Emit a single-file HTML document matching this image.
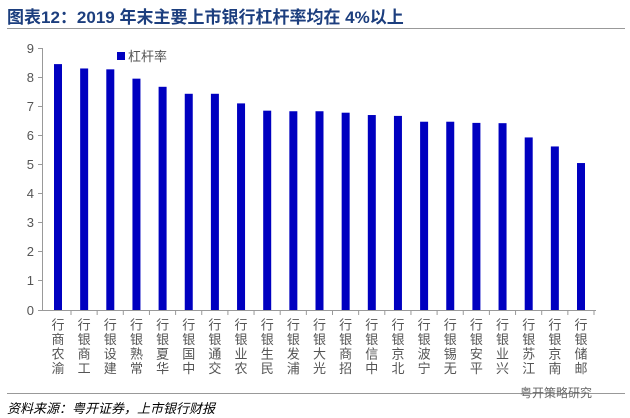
<!DOCTYPE html><html><head><meta charset="utf-8"><style>
body{margin:0;width:630px;height:418px;background:#fff;overflow:hidden;font-family:"Liberation Sans","Noto Sans CJK SC",sans-serif;}
</style></head><body>
<svg width="630" height="418" xmlns="http://www.w3.org/2000/svg" style="position:absolute;left:0;top:0">
<text x="7" y="23" font-size="17" font-weight="bold" fill="#1c3e7e" font-family="Liberation Sans,Noto Sans CJK SC,sans-serif">图表12：2019 年末主要上市银行杠杆率均在 4%以上</text>
<line x1="7" y1="28.5" x2="625" y2="28.5" stroke="#999" stroke-width="1"/>
<g font-size="13" fill="#555" text-anchor="end" font-family="Liberation Sans,sans-serif">
<text x="34" y="53">9</text><text x="34" y="82">8</text><text x="34" y="111">7</text><text x="34" y="140">6</text><text x="34" y="169">5</text><text x="34" y="198">4</text><text x="34" y="227">3</text><text x="34" y="256">2</text><text x="34" y="285">1</text><text x="34" y="315">0</text>
</g>
<g stroke="#999" stroke-width="1">
<line x1="42.5" y1="48" x2="42.5" y2="310"/>
<line x1="38" y1="48.5" x2="42" y2="48.5"/><line x1="38" y1="77.5" x2="42" y2="77.5"/><line x1="38" y1="106.5" x2="42" y2="106.5"/><line x1="38" y1="135.5" x2="42" y2="135.5"/><line x1="38" y1="164.5" x2="42" y2="164.5"/><line x1="38" y1="193.5" x2="42" y2="193.5"/><line x1="38" y1="222.5" x2="42" y2="222.5"/><line x1="38" y1="251.5" x2="42" y2="251.5"/><line x1="38" y1="280.5" x2="42" y2="280.5"/>
<line x1="38" y1="310.5" x2="596" y2="310.5"/>
</g>
<rect x="117" y="52" width="8" height="8" fill="#0000c0"/>
<text x="128" y="61" font-size="13" fill="#555">杠杆率</text>
<g id="bars"></g>
<g id="labels" font-size="13" fill="#555" text-anchor="middle"></g>
<line x1="7" y1="393.5" x2="625" y2="393.5" stroke="#999"/>
<text x="7" y="413" font-size="13" font-style="italic" fill="#000">资料来源：粤开证券，上市银行财报</text>
<text x="520" y="397" font-size="12" fill="#666">粤开策略研究</text>
</svg>
<script>
var v=[8.45,8.3,8.27,7.95,7.67,7.43,7.43,7.1,6.85,6.83,6.83,6.78,6.7,6.67,6.47,6.47,6.43,6.42,5.93,5.62,5.05];
var n=["渝农商行","工商银行","建设银行","常熟银行","华夏银行","中国银行","交通银行","农业银行","民生银行","浦发银行","光大银行","招商银行","中信银行","北京银行","宁波银行","无锡银行","平安银行","兴业银行","江苏银行","南京银行","邮储银行"];
var b=document.getElementById("bars"),l=document.getElementById("labels"),s="";
for(var i=0;i<21;i++){var cx=58+i*26.15,h=v[i]*29.1;
s+='<rect x="'+(cx-4)+'" y="'+(310-h)+'" width="8" height="'+h+'" fill="#0000c0"/>';}
b.innerHTML=s;s="";
for(var i=0;i<21;i++){var cx=58+i*26.15;
s+='<line x1="'+(cx+13)+'" y1="310" x2="'+(cx+13)+'" y2="315" stroke="#999"/>';
for(var j=0;j<4;j++){s+='<text x="'+cx+'" y="'+(373-j*14.5)+'">'+n[i][j]+'</text>';}}
l.innerHTML=s;
</script>
</body></html>
